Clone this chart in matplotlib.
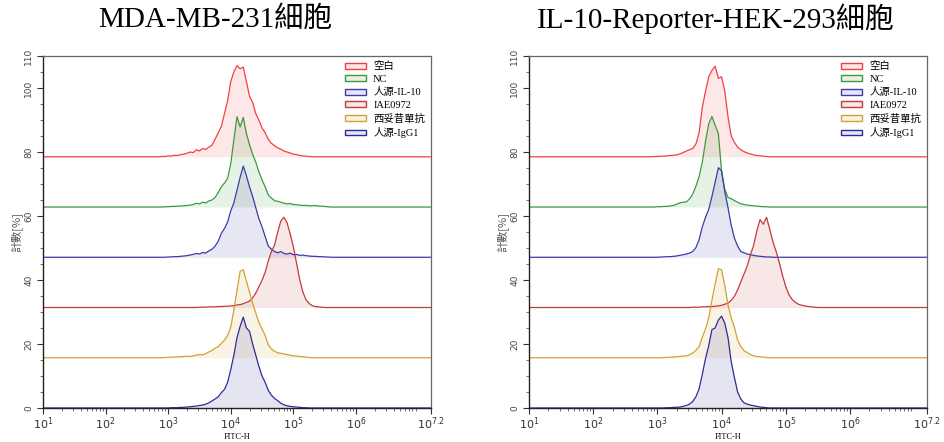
import numpy as np
import matplotlib
matplotlib.use("Agg")
from matplotlib import pyplot as plt
from matplotlib.patches import Patch
from matplotlib.ticker import MultipleLocator, LogLocator, NullFormatter

# histogram channels, read on a log10(FITC-H) grid
fitc_log = np.round(np.arange(2.8, 5.601, 0.05), 2)

series_labels = ["空白", "NC", "人源-IL-10", "IAE0972", "西妥昔單抗", "人源-IgG1"]
panel_titles = ["MDA-MB-231細胞", "IL-10-Reporter-HEK-293細胞"]

# counts [%] above each trace baseline, MDA-MB-231
mda_blank = [0, 0, 0.1, 0.1, 0.3, 0.2, 0.5, 0.4, 0.7, 0.8,
             1.1, 1.5, 1.3, 2.2, 1.8, 2.6, 2.3, 3.0, 3.6, 5.5,
             7.5, 9.5, 13.5, 17.5, 23.5, 26.5, 28.5, 27.5, 28.0, 23.5,
             19.0, 17.0, 13.5, 11.5, 9.0, 7.5, 5.5, 4.2, 3.5, 2.8,
             2.4, 1.8, 1.5, 1.2, 0.8, 0.7, 0.4, 0.3, 0.2, 0.1,
             0, 0, 0, 0, 0, 0, 0]
mda_nc = [0, 0, 0, 0.1, 0.1, 0.2, 0.2, 0.3, 0.3, 0.4,
          0.5, 0.6, 0.8, 1.2, 1.0, 1.5, 1.3, 1.9, 2.2, 3.0,
          4.5, 6.3, 7.5, 9.0, 13.5, 21.0, 28.2, 25.0, 28.0, 23.0,
          19.5, 16.5, 14.0, 11.0, 8.5, 6.3, 3.8, 2.8, 2.0, 1.8,
          1.5, 1.2, 1.0, 1.1, 0.8, 0.7, 0.6, 0.5, 0.5, 0.4,
          0.4, 0.5, 0.3, 0.3, 0.2, 0.1, 0]
mda_il10 = [0, 0, 0, 0, 0.1, 0.1, 0.2, 0.2, 0.3, 0.4,
            0.5, 0.7, 0.9, 1.2, 1.0, 1.5, 1.3, 2.0, 2.5, 3.5,
            5.0, 7.5, 9.0, 11.0, 14.5, 17.0, 21.0, 25.0, 28.5, 25.5,
            22.0, 19.0, 15.5, 12.0, 9.5, 6.5, 3.5, 2.5, 1.8, 1.4,
            1.8, 1.2, 1.0, 1.3, 0.8, 0.9, 0.6, 0.7, 0.5, 0.4,
            0.3, 0.3, 0.2, 0.2, 0.1, 0.1, 0]
mda_iae = [0, 0, 0, 0, 0, 0, 0, 0, 0, 0,
           0, 0, 0, 0, 0.1, 0.1, 0.1, 0.2, 0.2, 0.2,
           0.3, 0.3, 0.4, 0.4, 0.5, 0.6, 0.8, 0.9, 1.2, 1.6,
           2.0, 3.0, 4.5, 6.5, 8.5, 11.0, 14.5, 17.5, 19.5, 23.5,
           27.0, 28.2, 26.5, 23.0, 19.0, 14.0, 9.0, 5.0, 2.5, 1.3,
           0.6, 0.3, 0.2, 0.1, 0, 0, 0]
mda_cetux = [0, 0, 0, 0.1, 0.1, 0.2, 0.2, 0.3, 0.3, 0.4,
             0.5, 0.4, 0.6, 0.8, 1.0, 0.9, 1.3, 1.8, 2.3, 3.0,
             3.5, 4.5, 5.5, 7.0, 9.5, 15.0, 21.0, 27.0, 27.5, 24.0,
             20.5, 17.0, 14.0, 11.0, 9.0, 7.0, 4.0, 2.8, 2.0, 1.6,
             1.4, 1.2, 1.0, 0.8, 0.6, 0.5, 0.4, 0.3, 0.2, 0.1,
             0, 0, 0, 0, 0, 0, 0]
mda_igg1 = [0, 0, 0, 0, 0, 0.1, 0.1, 0.1, 0.2, 0.2,
            0.3, 0.4, 0.5, 0.6, 0.8, 0.9, 1.2, 1.6, 2.2, 2.8,
            3.5, 4.8, 5.8, 8.0, 12.0, 16.5, 22.0, 25.5, 28.4, 25.0,
            24.0, 20.0, 16.5, 13.0, 10.0, 8.0, 5.5, 4.0, 3.0, 2.3,
            1.5, 1.0, 0.7, 0.5, 0.4, 0.3, 0.2, 0.1, 0.1, 0,
            0, 0, 0, 0, 0, 0, 0]

# counts [%] above each trace baseline, IL-10-Reporter-HEK-293
hek_blank = [0, 0, 0, 0.1, 0.1, 0.2, 0.2, 0.3, 0.4, 0.5,
             0.6, 0.9, 1.3, 1.8, 2.2, 2.6, 4.0, 7.5, 15.5, 20.5,
             25.0, 27.0, 28.3, 24.5, 25.0, 20.5, 12.5, 6.5, 4.5, 3.0,
             2.2, 1.6, 1.2, 0.9, 0.6, 0.4, 0.3, 0.2, 0.1, 0,
             0, 0, 0, 0, 0, 0, 0, 0, 0, 0,
             0, 0, 0, 0, 0, 0, 0]
hek_nc = [0, 0, 0, 0, 0.1, 0.1, 0.2, 0.2, 0.3, 0.5,
          0.9, 1.3, 1.5, 1.6, 2.5, 4.0, 6.5, 9.5, 14.0, 20.5,
          26.0, 28.3, 25.5, 23.0, 11.0, 5.5, 3.0, 2.6, 2.0, 1.5,
          1.0, 0.8, 0.6, 0.5, 0.4, 0.3, 0.2, 0.1, 0.1, 0,
          0, 0, 0, 0, 0, 0, 0, 0, 0, 0,
          0, 0, 0, 0, 0, 0, 0]
hek_il10 = [0, 0, 0, 0, 0, 0.1, 0.1, 0.2, 0.2, 0.3,
            0.4, 0.6, 0.8, 1.0, 1.3, 1.8, 3.0, 5.5, 9.5, 12.5,
            15.0, 19.0, 23.5, 28.0, 27.0, 20.5, 15.5, 10.0, 6.0, 3.5,
            1.8, 1.4, 1.0, 0.8, 0.6, 0.4, 0.3, 0.2, 0.1, 0.1,
            0, 0, 0, 0, 0, 0, 0, 0, 0, 0,
            0, 0, 0, 0, 0, 0, 0]
hek_iae = [0, 0, 0, 0, 0, 0, 0, 0, 0, 0,
           0, 0, 0, 0, 0, 0.1, 0.1, 0.1, 0.2, 0.2,
           0.3, 0.3, 0.4, 0.5, 0.7, 1.0, 1.4, 2.2, 3.5, 5.5,
           8.0, 10.5, 13.0, 16.5, 19.5, 24.0, 27.5, 26.0, 28.2, 24.5,
           20.5, 17.5, 14.0, 10.0, 6.5, 4.0, 2.5, 1.6, 1.0, 0.7,
           0.5, 0.3, 0.2, 0.1, 0, 0, 0]
hek_cetux = [0, 0, 0, 0, 0, 0, 0.1, 0.1, 0.2, 0.2,
             0.3, 0.4, 0.5, 0.6, 0.9, 1.5, 2.3, 3.5, 6.5, 9.0,
             12.5, 18.0, 23.0, 27.8, 27.5, 22.5, 16.5, 12.5, 9.5, 5.5,
             3.5, 2.2, 1.6, 1.0, 0.6, 0.4, 0.3, 0.2, 0.1, 0,
             0, 0, 0, 0, 0, 0, 0, 0, 0, 0,
             0, 0, 0, 0, 0, 0, 0]
hek_igg1 = [0, 0, 0, 0, 0, 0, 0, 0.1, 0.1, 0.2,
            0.2, 0.3, 0.5, 0.8, 1.2, 2.0, 3.5, 6.0, 10.5, 15.5,
            19.5, 24.5, 25.0, 27.5, 28.7, 26.5, 22.0, 14.5, 9.5, 5.0,
            2.8, 1.6, 1.2, 0.9, 0.7, 0.5, 0.3, 0.2, 0.1, 0,
            0, 0, 0, 0, 0, 0, 0, 0, 0, 0,
            0, 0, 0, 0, 0, 0, 0]

panels = [
    [mda_blank, mda_nc, mda_il10, mda_iae, mda_cetux, mda_igg1],
    [hek_blank, hek_nc, hek_il10, hek_iae, hek_cetux, hek_igg1],
]

# style
colors = ["#f04040", "#3c9a3c", "#3a3ca8", "#c43a3c", "#d4a030", "#2c2c98"]
offset_step = 15.7
X_MAX_LOG = 7.2
SERIF_CJK = ["Liberation Serif", "Noto Sans CJK TC", "DejaVu Sans"]


def draw_panel(ax, traces, leg_x):
    n = len(traces)
    x = np.concatenate([[1.0], fitc_log, [X_MAX_LOG]])
    x = 10 ** x
    for k, (vals, c) in enumerate(zip(traces, colors)):
        off = offset_step * (n - 1 - k)
        y = np.concatenate([[0.0], vals, [0.0]]) + off
        ax.fill_between(x, off, y, color=c, alpha=0.12, lw=0)
        ax.plot(x, y, color=c, lw=0.9)

    ax.set_xscale("log")
    ax.set_xlim(10, 10 ** X_MAX_LOG)
    ax.set_ylim(0, 110)

    xt = [10.0 ** k for k in range(1, 7)] + [10 ** X_MAX_LOG]
    xl = [r"$10^{%d}$" % k for k in range(1, 7)] + [r"$10^{7.2}$"]
    ax.set_xticks(xt)
    ax.set_xticklabels(xl, fontsize=8, color="#333333")
    ax.xaxis.set_minor_locator(LogLocator(base=10, subs=np.arange(2, 10)))
    ax.xaxis.set_minor_formatter(NullFormatter())

    yt = [0, 20, 40, 60, 80, 100, 110]
    ax.set_yticks(yt)
    ax.set_yticklabels([str(v) for v in yt], rotation=90, va="center",
                       fontsize=6.5, color="#444444")
    ax.yaxis.set_minor_locator(MultipleLocator(5))

    ax.tick_params(which="major", direction="out", length=4, width=0.8,
                   color="#333333")
    ax.tick_params(which="minor", direction="out", length=2, width=0.6,
                   color="#555555")
    ax.tick_params(axis="x", pad=1)
    ax.tick_params(axis="y", pad=3)

    for side in ["left", "bottom"]:
        ax.spines[side].set_color("#222222")
        ax.spines[side].set_linewidth(1.0)
    for side in ["top", "right"]:
        ax.spines[side].set_color("#666666")
        ax.spines[side].set_linewidth(0.9)

    ax.set_xlabel("FITC-H", fontsize=6, family=SERIF_CJK, labelpad=1)
    ax.set_ylabel("計數[%]", fontsize=8, color="#555555",
                  family=["Noto Sans CJK TC", "DejaVu Sans"], labelpad=1)

    handles = [Patch(facecolor=matplotlib.colors.to_rgba(c, 0.12),
                     edgecolor=c, linewidth=1.0) for c in colors]
    ax.legend(handles, series_labels, loc="upper left",
              bbox_to_anchor=(leg_x, 1.0), frameon=False,
              prop={"family": SERIF_CJK, "size": 7.5},
              handlelength=2.0, handleheight=0.5, labelspacing=0.34,
              borderpad=0.0, handletextpad=0.7)


fig = plt.figure(figsize=(9.44, 4.42), dpi=100)
ax1 = fig.add_axes([43 / 944, 1 - 408 / 442, 388 / 944, 352 / 442])
ax2 = fig.add_axes([529 / 944, 1 - 408 / 442, 398 / 944, 352 / 442])

draw_panel(ax1, panels[0], 0.765)
draw_panel(ax2, panels[1], 0.772)

fig.text(215 / 944, 1 - 19 / 442, panel_titles[0], ha="center", va="center",
         fontsize=21, family=SERIF_CJK)
fig.text(716 / 944, 1 - 19 / 442, panel_titles[1], ha="center", va="center",
         fontsize=21, family=SERIF_CJK)

fig.savefig("out.png", dpi=100)
